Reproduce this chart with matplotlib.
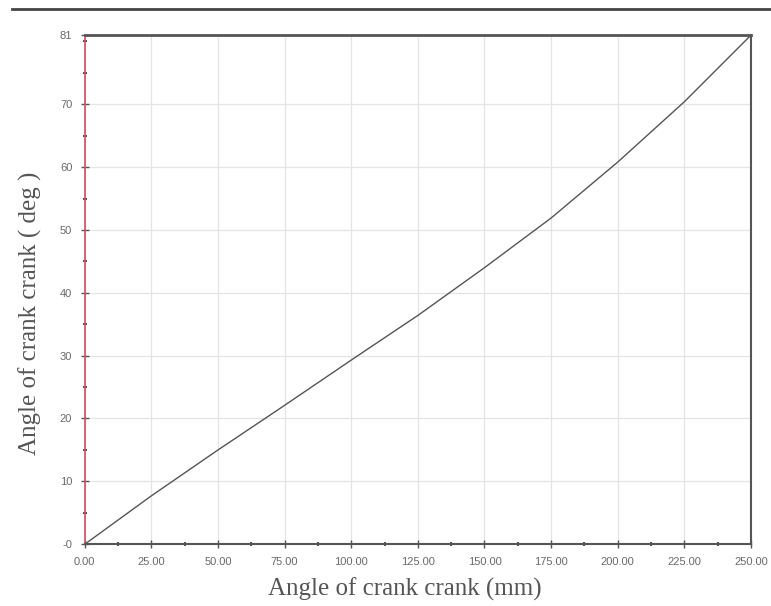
import matplotlib.pyplot as plt
import numpy as np
from matplotlib.lines import Line2D
from matplotlib.ticker import MultipleLocator

# values
stroke = [0, 25, 50, 75, 100, 125, 150, 175, 200, 225, 250]
angle = [0, 7.7, 15.0, 22.1, 29.3, 36.4, 44.0, 51.9, 60.8, 70.4, 81]
x_ticks = [0, 25, 50, 75, 100, 125, 150, 175, 200, 225, 250]
y_ticks = [0, 10, 20, 30, 40, 50, 60, 70, 81]
y_tick_labels = ["-0", "10", "20", "30", "40", "50", "60", "70", "81"]

fig = plt.figure(figsize=(7.71, 6.06), dpi=100)
ax = fig.add_axes([0.110, 0.102, 0.864, 0.840])

ax.plot(stroke, angle, color="#555555", lw=1.0)

ax.set_xlim(0, 250)
ax.set_ylim(0, 81)
ax.set_xticks(x_ticks)
ax.set_xticklabels(["%.2f" % v for v in x_ticks])
ax.set_yticks(y_ticks)
ax.set_yticklabels(y_tick_labels)
ax.xaxis.set_minor_locator(MultipleLocator(12.5))
ax.yaxis.set_minor_locator(MultipleLocator(5))

ax.grid(True, which="major", color="#e4e4e4", lw=0.9)
ax.set_axisbelow(True)

for s in ["top", "right", "bottom"]:
    ax.spines[s].set_color("#555555")
ax.spines["top"].set_linewidth(2.0)
ax.spines["right"].set_linewidth(1.5)
ax.spines["bottom"].set_linewidth(1.5)
ax.spines["left"].set_color("#d6496a")
ax.spines["left"].set_linewidth(1.2)

ax.tick_params(which="major", direction="inout", length=6, width=1.0,
               color="#555555", labelsize=8, labelcolor="#6a6a6a",
               pad=6, labelfontfamily="Liberation Sans")
ax.tick_params(which="minor", direction="inout", length=3, width=1.5,
               color="#555555")

# axis titles placed where the reference has them
fig.text(0.525, 1 - 589 / 606, "Angle of crank crank (mm)",
         family="Liberation Serif", fontsize=18, color="#555555",
         ha="center", va="center")
fig.text(0.039, 1 - 313 / 606, "Angle of crank crank ( deg )",
         family="Liberation Serif", fontsize=18, color="#555555",
         ha="center", va="center", rotation=90)

# header rule across the top
fig.add_artist(Line2D([0.015, 1.0], [0.985, 0.985], color="#444444", lw=2.0))

fig.savefig("out.png", dpi=100)
